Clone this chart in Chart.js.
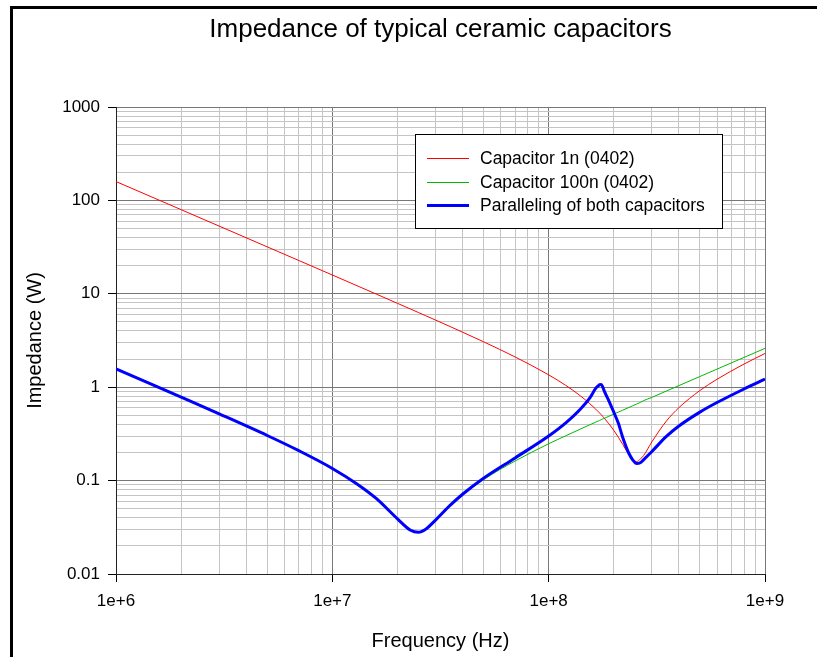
<!DOCTYPE html>
<html>
<head>
<meta charset="utf-8">
<script src="https://cdn.jsdelivr.net/npm/chart.js@4.4.1/dist/chart.umd.min.js"></script>
<style>
  html, body { margin: 0; padding: 0; background: #fff; }
  .wrap { position: relative; width: 817px; height: 657px; overflow: hidden; }
  .frame {
    position: absolute; left: 10px; top: 6px; right: 0; bottom: 0;
    border-left: 3px solid #000; border-top: 3px solid #000;
  }
  #impChart { position: absolute; left: 0; top: 0; }
</style>
</head>
<body>
<div class="wrap">
  <div class="frame"></div>
  <canvas id="impChart" width="817" height="657"></canvas>
</div>
<script>
const chartTitle = "Impedance of typical ceramic capacitors";
const seriesNames = ["Capacitor 1n (0402)", "Capacitor 100n (0402)", "Paralleling of both capacitors"];

// frequency points (Hz)
const freq = [
  1e6, 1.5e6, 2e6, 3e6, 5e6, 7e6,
  1e7, 1.3e7, 1.6e7, 2e7, 2.3e7, 2.5e7, 2.7e7, 3e7, 3.5e7, 4e7, 5e7, 7e7,
  1e8, 1.2e8, 1.4e8, 1.55e8, 1.65e8, 1.7e8, 1.72e8, 1.75e8, 1.78e8, 1.8e8, 1.9e8,
  2e8, 2.1e8, 2.2e8, 2.35e8, 2.45e8, 2.55e8, 2.65e8, 2.75e8, 3e8, 3.5e8, 4e8, 5e8, 6e8, 8e8, 1e9
];

// impedance in ohms
const cap1n = [
  159.2, 106.1, 79.57, 53.04, 31.82, 22.72,
  15.89, 12.21, 9.908, 7.909, 6.864, 6.305, 5.829, 5.232, 4.461, 3.881, 3.064, 2.107,
  1.356, 1.045, 0.810, 0.666, 0.583, 0.544, 0.529, 0.507, 0.485, 0.471, 0.405,
  0.345, 0.291, 0.244, 0.189, 0.167, 0.160, 0.170, 0.186, 0.260, 0.434, 0.604, 0.921, 1.216, 1.769, 2.297
];
const cap100n = [
  1.589, 1.057, 0.791, 0.523, 0.307, 0.211,
  0.136, 0.0929, 0.0642, 0.0392, 0.0295, 0.0280, 0.0303, 0.0377, 0.0537, 0.0703, 0.1024, 0.1622,
  0.248, 0.302, 0.356, 0.396, 0.422, 0.436, 0.441, 0.449, 0.457, 0.462, 0.489,
  0.515, 0.541, 0.568, 0.607, 0.634, 0.660, 0.686, 0.719, 0.778, 0.909, 1.040, 1.301, 1.562, 2.084, 2.606
];
const paralleled = [
  1.573, 1.047, 0.783, 0.518, 0.304, 0.209,
  0.135, 0.092, 0.064, 0.039, 0.0294, 0.0280, 0.0302, 0.0378, 0.0542, 0.0714, 0.106, 0.175,
  0.300, 0.415, 0.58, 0.77, 0.97, 1.04, 1.065, 1.07, 1.00, 0.93, 0.71,
  0.54, 0.41, 0.29, 0.195, 0.166, 0.152, 0.155, 0.168, 0.205, 0.297, 0.384, 0.541, 0.685, 0.957, 1.221
];

const xTickLabels = ["1e+6", "1e+7", "1e+8", "1e+9"];
const yTickLabels = ["0.01", "0.1", "1", "10", "100", "1000"];

const FONT = "'Liberation Sans', Arial, sans-serif";

// decades plus 2..9 subdivisions for the grid
function logTicks(labels) {
  const decades = labels.map(Number);
  const vals = [];
  decades.forEach((d, i) => {
    vals.push(d);
    if (i < decades.length - 1) {
      for (let k = 2; k <= 9; k++) vals.push(d * k);
    }
  });
  return vals;
}

function labelFor(labels, v) {
  const hit = labels.find((l) => Math.abs(Number(l) - v) < v * 1e-9);
  return hit === undefined ? "" : hit;
}

function toPoints(ys) {
  return freq.map((f, i) => ({ x: f, y: ys[i] }));
}

const xTicks = logTicks(xTickLabels);
const yTicks = logTicks(yTickLabels);

const titlePlugin = {
  id: "plotTitle",
  afterDraw(chart) {
    const ctx = chart.ctx;
    const area = chart.chartArea;
    ctx.save();
    ctx.fillStyle = "#000";
    ctx.font = "26px " + FONT;
    ctx.textAlign = "center";
    ctx.textBaseline = "middle";
    ctx.fillText(chartTitle, (area.left + area.right) / 2, 30);
    ctx.restore();
  },
};

// boxed legend inside the plot
const boxLegend = {
  id: "boxLegend",
  afterDraw(chart) {
    const ctx = chart.ctx;
    const x0 = 415, y0 = 134, w = 307, h = 94;
    ctx.save();
    ctx.fillStyle = "#fff";
    ctx.fillRect(x0, y0, w, h);
    ctx.strokeStyle = "#000";
    ctx.lineWidth = 1;
    ctx.strokeRect(x0 + 0.5, y0 + 0.5, w, h);
    ctx.font = "17.5px " + FONT;
    ctx.textBaseline = "middle";
    ctx.textAlign = "left";
    chart.data.datasets.forEach((ds, i) => {
      const y = Math.round(y0 + 24 + i * 23.5) + 0.5;
      ctx.strokeStyle = ds.borderColor;
      ctx.lineWidth = ds.borderWidth;
      ctx.beginPath();
      ctx.moveTo(x0 + 12, y);
      ctx.lineTo(x0 + 54, y);
      ctx.stroke();
      ctx.fillStyle = "#000";
      ctx.fillText(ds.label, x0 + 65, y + 1);
    });
    ctx.restore();
  },
};

const isDecade = (v) => Math.abs(Math.log10(v) - Math.round(Math.log10(v))) < 1e-9;

new Chart(document.getElementById("impChart"), {
  type: "line",
  data: {
    datasets: [
      {
        label: seriesNames[0],
        data: toPoints(cap1n),
        borderColor: "#ff0000",
        borderWidth: 1,
        order: 2,
      },
      {
        label: seriesNames[1],
        data: toPoints(cap100n),
        borderColor: "#00b800",
        borderWidth: 1,
        order: 1,
      },
      {
        label: seriesNames[2],
        data: toPoints(paralleled),
        borderColor: "#0000ff",
        borderWidth: 3,
        order: 0,
      },
    ],
  },
  options: {
    responsive: false,
    animation: false,
    events: [],
    layout: { padding: { left: 12, right: 52, top: 107, bottom: 0 } },
    elements: {
      point: { radius: 0 },
      line: { cubicInterpolationMode: "monotone", borderJoinStyle: "round", fill: false },
    },
    plugins: {
      legend: { display: false },
      tooltip: { enabled: false },
    },
    scales: {
      x: {
        type: "logarithmic",
        min: 1e6,
        max: 1e9,
        afterBuildTicks: (s) => { s.ticks = xTicks.map((v) => ({ value: v })); },
        afterFit: (s) => { s.height = 83; },
        ticks: {
          autoSkip: false,
          maxRotation: 0,
          minRotation: 0,
          padding: 9,
          color: "#000",
          font: { family: FONT, size: 17 },
          callback: (v) => labelFor(xTickLabels, v),
        },
        grid: {
          color: (c) => (isDecade(c.tick.value) ? "#777" : "#c4c4c4"),
          tickColor: (c) => (isDecade(c.tick.value) ? "#000" : "rgba(0,0,0,0)"),
          tickLength: 8,
        },
        border: { color: "#222", width: 1 },
        title: {
          display: true,
          text: "Frequency (Hz)",
          color: "#000",
          font: { family: FONT, size: 20 },
          padding: { top: 0, bottom: 4 },
        },
      },
      y: {
        type: "logarithmic",
        min: 0.01,
        max: 1000,
        afterBuildTicks: (s) => { s.ticks = yTicks.map((v) => ({ value: v })); },
        afterFit: (s) => { s.width = 104; },
        ticks: {
          autoSkip: false,
          padding: 8,
          color: "#000",
          font: { family: FONT, size: 17 },
          callback: (v) => labelFor(yTickLabels, v),
        },
        grid: {
          color: (c) => (isDecade(c.tick.value) ? "#777" : "#c4c4c4"),
          tickColor: (c) => (isDecade(c.tick.value) ? "#000" : "rgba(0,0,0,0)"),
          tickLength: 8,
        },
        border: { color: "#222", width: 1 },
        title: {
          display: true,
          text: "Impedance (W)",
          color: "#000",
          font: { family: FONT, size: 20 },
          padding: { top: 11, bottom: 0 },
        },
      },
    },
  },
  plugins: [titlePlugin, boxLegend],
});
</script>
</body>
</html>
